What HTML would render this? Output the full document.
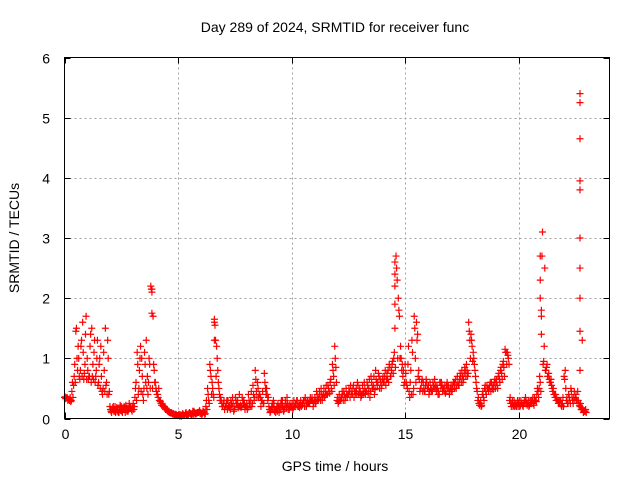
<!DOCTYPE html>
<html><head><meta charset="utf-8"><style>
html,body{margin:0;padding:0;background:#fff}
svg{display:block}
text{font-family:"Liberation Sans",sans-serif;font-size:14px;fill:#000}
</style></head><body>
<svg id="chart" width="640" height="480" xmlns="http://www.w3.org/2000/svg">
<text x="335" y="32" text-anchor="middle">Day 289 of 2024, SRMTID for receiver func</text>
<text transform="translate(19,238) rotate(-90)" text-anchor="middle">SRMTID / TECUs</text>
<text x="335" y="471" text-anchor="middle">GPS time / hours</text>
<g id="grid"></g>
<g id="ticks"></g>
<g id="marks"></g>
<rect x="64.5" y="57.5" width="545" height="361" fill="none" stroke="#000" stroke-width="1"/>
</svg>
<script>
const xTicks=[0,5,10,15,20];
const yTicks=[0,1,2,3,4,5,6];
const seriesA=[
.35,.35,.32,.3,.55,1.45,1.2,.8,1.6,.9,
1.0,.7,1.5,1.1,.8,.6,1.2,.5,1.5,1.3,
.2,.15,.12,.18,.1,.2,.15,.22,.12,.18,
.2,.35,1.1,.8,1.0,.5,1.3,.6,2.2,1.7,
.6,.4,.3,.25,.2,.15,.12,.1,.08,.07,
.05,.06,.08,.05,.07,.1,.06,.12,.08,.1,
.1,.12,.08,.5,.9,.6,1.65,1.2,.5,.3,
.25,.2,.3,.15,.35,.2,.25,.4,.2,.3,
.2,.4,.3,.55,.8,.6,.4,.3,.75,.5,
.2,.15,.3,.1,.25,.15,.3,.2,.35,.15,
.2,.3,.25,.2,.3,.25,.35,.3,.25,.35,
.3,.45,.35,.5,.4,.45,.55,.6,.9,1.2,
.3,.4,.35,.45,.5,.4,.55,.5,.45,.6,
.5,.4,.6,.45,.5,.7,.55,.8,.6,.65,
.65,.7,.75,.9,.8,1.0,2.7,2.0,1.2,.7,
.9,.5,.35,1.3,1.7,1.6,.8,.5,.6,.55,
.5,.6,.45,.65,.55,.4,.6,.5,.45,.55,
.5,.55,.6,.7,.65,.8,.75,.9,1.6,1.4,
1.1,.7,.3,.25,.4,.5,.55,.5,.6,.55,
.6,.7,.8,.9,1.15,1.1,.3,.25,.3,.2,
.25,.3,.2,.35,.25,.3,.3,.35,.4,.5,
1.8,.95,.8,.7,.6,.45,.35,.3,.25,.2,
.7,.3,.4,.5,.25,.35,.45,.2,.15,.12];
const seriesB=[
.33,.3,.35,.6,.9,1.0,.7,1.3,.65,1.7,
.65,1.4,.9,.6,1.3,1.0,.45,.8,.6,.4,
.12,.2,.1,.15,.22,.1,.18,.12,.25,.15,
.15,.6,.4,1.2,.4,.9,.7,.9,2.1,.8,
.45,.5,.25,.2,.15,.12,.1,.08,.06,.05,
.07,.04,.05,.1,.06,.08,.12,.07,.1,.13,
.06,.1,.3,.3,.7,.4,1.3,.8,.3,.2,
.15,.3,.18,.25,.12,.3,.18,.22,.3,.15,
.15,.25,.2,.3,.45,.35,.2,.25,.5,.3,
.1,.25,.12,.2,.1,.3,.12,.25,.15,.2,
.15,.2,.3,.18,.22,.3,.2,.25,.3,.2,
.25,.3,.4,.3,.35,.4,.45,.5,.7,.85,
.25,.3,.4,.3,.35,.45,.4,.35,.5,.4,
.35,.45,.4,.55,.35,.5,.4,.6,.7,.5,
.6,.55,.8,.7,.95,1.5,2.3,1.7,.8,.55,
.6,1.2,.8,.4,1.0,1.4,.45,.65,.45,.6,
.4,.45,.55,.5,.4,.6,.45,.55,.6,.4,
.45,.6,.5,.55,.7,.6,.8,.7,1.3,1.2,
.9,.5,.25,.2,.35,.45,.5,.6,.5,.65,
.55,.65,.75,.85,1.1,1.0,.25,.2,.25,.3,
.2,.25,.3,.25,.2,.3,.25,.3,.45,.6,
3.1,2.5,.9,.65,.55,.4,.3,.25,.3,.35,
.8,.25,.3,.35,.45,.3,.25,.15,.1,.15];
const seriesC=[
.36,.34,.3,.45,.7,1.5,1.0,1.2,1.1,1.4,
.8,1.2,.7,1.3,1.0,.9,.7,1.1,.55,1.0,
.15,.18,.2,.12,.15,.12,.2,.17,.15,.2,
.25,.5,.9,1.0,.7,1.1,.5,1.0,2.15,.9,
.5,.35,.28,.22,.18,.13,.1,.09,.07,.06,
.06,.05,.07,.08,.05,.09,.08,.1,.09,.11,
.08,.11,.2,.4,.8,.5,1.55,1.0,.4,.25,
.3,.25,.2,.3,.25,.35,.3,.2,.35,.25,
.25,.3,.45,.4,.65,.5,.35,.45,.6,.4,
.15,.2,.25,.15,.2,.25,.2,.3,.25,.25,
.25,.2,.3,.25,.2,.3,.3,.25,.35,.3,
.35,.4,.45,.4,.5,.55,.5,.65,.8,1.0,
.35,.3,.45,.4,.4,.5,.45,.55,.4,.55,
.45,.55,.5,.6,.65,.6,.7,.65,.75,.6,
.7,.8,.65,.85,.9,1.1,2.5,1.8,1.0,.8,
.75,.9,.6,1.1,1.5,1.3,.65,.6,.5,.65,
.55,.5,.6,.55,.5,.6,.55,.45,.55,.5,
.55,.6,.65,.6,.75,.7,.85,.8,1.45,1.3,
1.0,.6,.35,.3,.45,.55,.5,.55,.55,.6,
.65,.75,.85,.95,1.1,1.05,.35,.3,.2,.25,
.3,.25,.25,.3,.3,.25,.35,.3,.5,.7,
2.7,1.2,.85,.75,.65,.5,.4,.3,.3,.25,
.65,.35,.35,.45,.35,.4,.3,.25,.15,.12];
const seriesD=[
.34,.32,.28,.35,.6,.8,.65,.7,.75,.65,
.7,.6,.65,.7,.55,.5,.4,.45,.4,.45,
.1,.12,.15,.1,.13,.15,.1,.14,.18,.12,
.2,.3,.5,.45,.3,.6,.4,.5,.5,.6,
.4,.3,.22,.2,.16,.11,.09,.07,.06,.05,
.04,.06,.05,.06,.08,.06,.07,.09,.1,.08,
.09,.07,.15,.25,.4,.35,.7,.6,.35,.2,
.2,.15,.22,.2,.15,.25,.2,.18,.25,.2,
.18,.2,.25,.35,.35,.4,.3,.25,.4,.35,
.12,.18,.15,.12,.18,.2,.15,.18,.2,.18,
.18,.25,.2,.22,.25,.2,.25,.28,.3,.25,
.28,.32,.3,.35,.38,.4,.42,.45,.55,.6,
.28,.35,.3,.35,.4,.35,.4,.45,.42,.45,
.38,.42,.45,.42,.45,.5,.48,.55,.5,.55,
.6,.65,.6,.7,.75,.85,1.0,1.0,.9,.6,
.55,.45,.4,.5,.6,.7,.5,.45,.45,.5,
.45,.48,.5,.45,.45,.5,.5,.42,.5,.45,
.48,.5,.55,.55,.6,.65,.7,.75,1.0,.95,
.8,.45,.22,.22,.3,.4,.45,.45,.48,.5,
.5,.6,.65,.7,.9,.9,.2,.22,.22,.2,
.22,.22,.25,.22,.22,.25,.22,.28,.35,.45,
.9,.8,.7,.6,.5,.4,.35,.28,.22,.2,
.5,.25,.25,.3,.3,.3,.22,.18,.12,.1];
const spikeT=[20.95,20.95,20.95,21.0,21.0,22.7,22.7,22.7,22.7,22.7,22.7,22.7,22.7,22.7,22.7,22.8,3.85,3.85,14.55,14.55,14.55,14.55,6.6,6.6];
const spikeV=[2.0,2.3,2.7,1.4,1.7,0.8,1.45,2.0,2.5,3.0,3.8,3.95,4.65,5.25,5.4,1.3,2.15,1.75,2.6,2.4,2.2,1.9,1.6,1.3];
const X0=64.5,X1=609.5,Y0=418.5,Y1=57.5,XMAX=24,YMAX=6;
function sx(t){return X0+(X1-X0)*t/XMAX;}
function sy(v){return Y0-(Y0-Y1)*v/YMAX;}
const NS="http://www.w3.org/2000/svg";
const grid=document.getElementById('grid'),ticks=document.getElementById('ticks'),marks=document.getElementById('marks');
function line(p,x1,y1,x2,y2,st,dash){const l=document.createElementNS(NS,'line');l.setAttribute('x1',x1);l.setAttribute('y1',y1);l.setAttribute('x2',x2);l.setAttribute('y2',y2);l.setAttribute('stroke',st);if(dash)l.setAttribute('stroke-dasharray',dash);p.appendChild(l);return l;}
function txt(p,x,y,s,anc){const t=document.createElementNS(NS,'text');t.setAttribute('x',x);t.setAttribute('y',y);t.setAttribute('text-anchor',anc);t.textContent=s;p.appendChild(t);return t;}
xTicks.forEach(v=>{const x=Math.round(sx(v))+0.5;
 if(v>0){const g=line(grid,x,Y1,x,Y0,'#a0a0a0','2,3');}
 const a=line(ticks,x,Y0,x,Y0-6,'#000');
 const b=line(ticks,x,Y1,x,Y1+6,'#000');
 const t=txt(ticks,x,439,String(v),'middle');});
yTicks.forEach(v=>{const y=Math.round(sy(v))+0.5;
 if(v>0&&v<6){const g=line(grid,X0,y,X1,y,'#a0a0a0','2,3');}
 const a=line(ticks,X0,y,X0+6,y,'#000');
 const b=line(ticks,X1,y,X1-6,y,'#000');
 const t=txt(ticks,50,y+5,String(v),'end');});
function plus(t,v){const x=sx(t),y=sy(v);const p=document.createElementNS(NS,'path');
 p.setAttribute('d','M'+(x-3.5)+' '+y+'h7M'+x+' '+(y-3.5)+'v7');p.setAttribute('stroke','#f00');p.setAttribute('stroke-width','1.2');p.setAttribute('fill','none');
 
 
 marks.appendChild(p);}
seriesD.forEach((v,i)=>plus(i*0.1+0.075,v));
seriesC.forEach((v,i)=>plus(i*0.1+0.025,v));
seriesB.forEach((v,i)=>plus(i*0.1+0.05,v));
seriesA.forEach((v,i)=>plus(i*0.1,v));
spikeT.forEach((t,i)=>plus(t,spikeV[i]));
</script>
</body></html>
